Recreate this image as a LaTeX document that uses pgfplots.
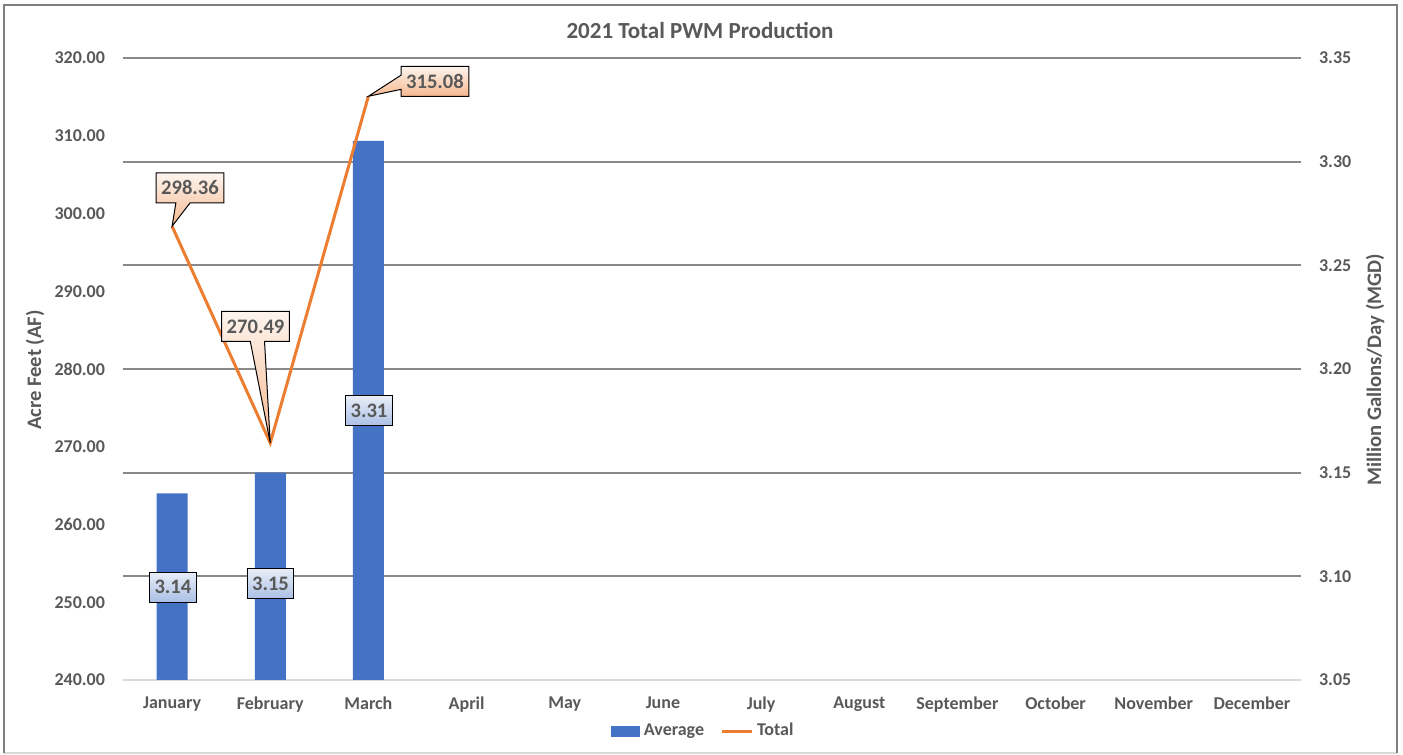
\documentclass[border=0pt]{standalone}
\usepackage{pgfplots}
\pgfplotsset{compat=1.18}
\usepackage{fontspec}
\setmainfont{Carlito}
\usetikzlibrary{shapes.callouts}
\definecolor{barblue}{HTML}{4472C4}
\definecolor{lineorange}{HTML}{ED7D31}
\definecolor{txtgray}{HTML}{595959}
\definecolor{gridgray}{HTML}{898989}
\definecolor{axisgray}{HTML}{D9D9D9}
\definecolor{bordergray}{HTML}{7F7F7F}

\pgfplotsset{
  common/.style={
    scale only axis,
    width=589pt, height=311pt,
    at={(61.5pt,37.5pt)}, anchor=south west,
    xmin=-0.5, xmax=11.5,
    axis line style={draw=none},
    major tick length=0pt,
    tick label style={font=\fontsize{9}{10}\selectfont\bfseries, text=txtgray},
    /pgf/number format/assume math mode=true,
    yticklabel style={/pgf/number format/fixed, /pgf/number format/fixed zerofill, /pgf/number format/precision=2},
  }
}

\begin{document}
\begin{tikzpicture}
\path[use as bounding box] (0pt,0pt) rectangle (701.5pt,377.5pt);
\fill[white] (0pt,0pt) rectangle (701.5pt,377.5pt);
\draw[axisgray, line width=1pt] (2pt,1pt) -- (698.5pt,1pt);
\draw[bordergray, line width=1pt] (2pt,1pt) -- (2pt,375pt) -- (698.5pt,375pt) -- (698.5pt,1pt);

% right axis: bars (MGD)
\begin{axis}[common,
  ymin=3.05, ymax=3.35,
  ytick={3.1,3.15,3.2,3.25,3.3,3.35},
  extra y ticks={3.05},
  extra y tick style={major grid style={axisgray, line width=1pt}},
  yticklabel pos=right,
  yticklabel style={xshift=5.5pt},
  ymajorgrids,
  major grid style={gridgray, line width=1pt},
  xtick=\empty,
]
\addplot[ybar, bar width=15.5pt, bar shift=0pt, fill=barblue, draw=none]
  coordinates {(0,3.14) (1,3.15) (2,3.31)};
\end{axis}

% left axis: line (AF)
\begin{axis}[common,
  ymin=240, ymax=320,
  ytick={240,250,260,270,280,290,300,310,320},
  yticklabel pos=left,
  yticklabel style={xshift=-5.5pt},
  xtick={0,1,2,3,4,5,6,7,8,9,10,11},
  xticklabels={January,February,March,April,May,June,July,August,September,October,November,December},
  xticklabel style={yshift=-5pt},
  legend columns=2,
  legend style={draw=none, fill=none, at={(0.4935,-0.082)}, anchor=center,
    font=\fontsize{9}{10}\selectfont\bfseries, text=txtgray,
    nodes={inner xsep=2pt},
    /tikz/every even column/.append style={column sep=6pt}},
  clip=false,
]
\addlegendimage{legend image code/.code={\fill[barblue] (0pt,-2.5pt) rectangle (14pt,2.5pt);}}
\addlegendentry{Average}
\addplot[lineorange, line width=1.5pt, mark=none,
  legend image code/.code={\draw[lineorange, line width=1.5pt] (0pt,0pt) -- (15pt,0pt);}]
  coordinates {(0,298.36) (1,270.49) (2,315.08)};
\addlegendentry{Total}

\tikzset{
  lbl/.style={draw=black, line width=0.5pt, font=\fontsize{10.3}{11}\selectfont\bfseries,
    text=txtgray, inner xsep=2.5pt, minimum height=15pt},
  olbl/.style={lbl, top color=lineorange!8!white, bottom color=lineorange!55!white},
  blbl/.style={lbl, top color=barblue!12!white, bottom color=barblue!45!white, rectangle},
}
\node[olbl, rectangle callout, callout absolute pointer={(axis cs:0,298.36)}] at (axis cs:0.1825,303.3) {298.36};
\node[olbl, rectangle callout, callout absolute pointer={(axis cs:1,270.49)}] at (axis cs:0.85,285.47) {270.49};
\node[olbl, rectangle callout, callout absolute pointer={(axis cs:2,315.08)}] at (axis cs:2.678,316.98) {315.08};
\node[blbl] at (axis cs:0.009,251.96) {3.14};
\node[blbl] at (axis cs:1.0025,252.35) {3.15};
\node[blbl] at (axis cs:2.006,274.6) {3.31};
\end{axis}

\node[font=\fontsize{11.5}{13}\selectfont\bfseries, text=txtgray] at (350pt,362pt) {2021 Total PWM Production};
\node[font=\fontsize{10.3}{12}\selectfont\bfseries, text=txtgray, rotate=90] at (17.5pt,192.5pt) {Acre Feet (AF)};
\node[font=\fontsize{10.3}{12}\selectfont\bfseries, text=txtgray, rotate=90] at (687.5pt,192.5pt) {Million Gallons/Day (MGD)};
\end{tikzpicture}
\end{document}
